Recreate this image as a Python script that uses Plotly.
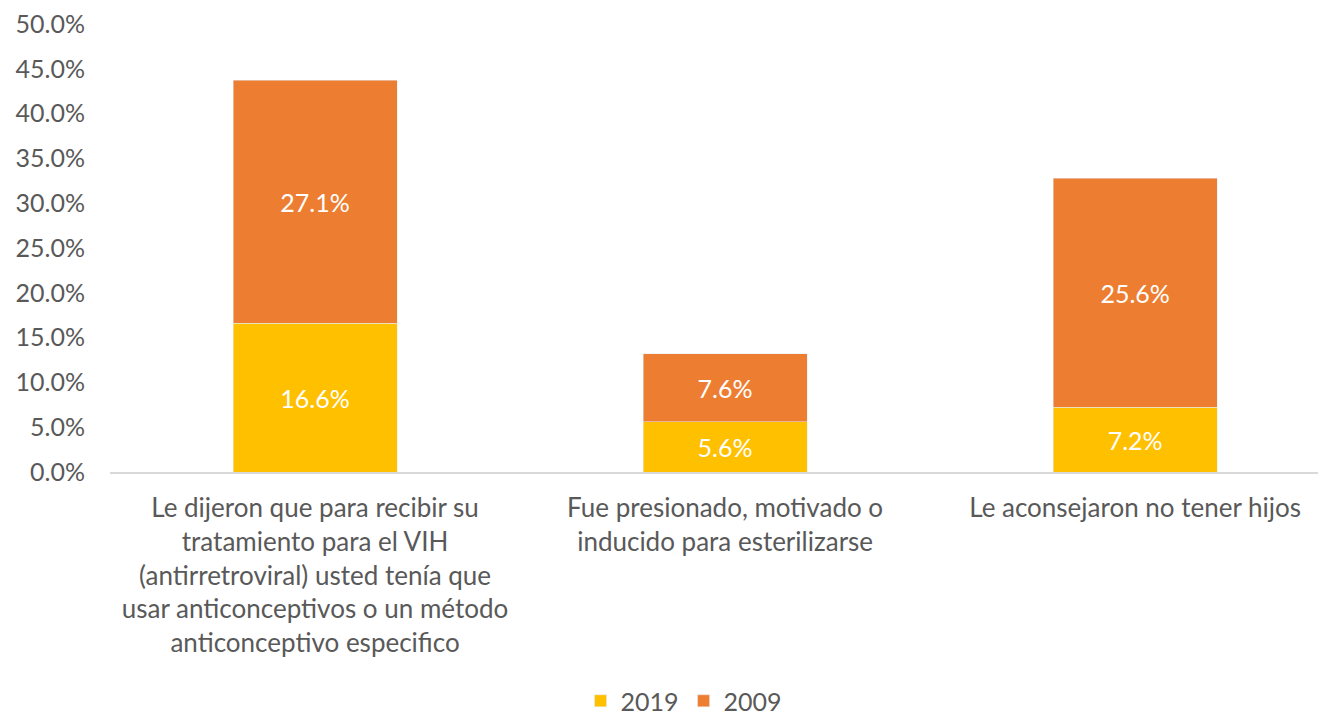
import plotly.graph_objects as go

categories = [
    "Le dijeron que para recibir su<br>tratamiento para el VIH<br>(antirretroviral) usted tenía que<br>usar anticonceptivos o un método<br>anticonceptivo especifico",
    "Fue presionado, motivado o<br>inducido para esterilizarse",
    "Le aconsejaron no tener hijos",
]
values_2019 = [0.166, 0.056, 0.072]
values_2009 = [0.271, 0.076, 0.256]
tick_vals = [0, 0.05, 0.10, 0.15, 0.20, 0.25, 0.30, 0.35, 0.40, 0.45, 0.50]
tick_text = ["0.0%", "5.0%", "10.0%", "15.0%", "20.0%", "25.0%", "30.0%", "35.0%", "40.0%", "45.0%", "50.0%"]

FONT = "Lato, Open Sans, sans-serif"
GREY = "#595959"

fig = go.Figure()
fig.add_trace(go.Bar(
    name="2019", x=categories, y=values_2019, marker_color="#FFC000",
    text=[f"{v*100:.1f}%" for v in values_2019], textposition="inside",
    insidetextanchor="middle", textfont=dict(color="white", size=25, family=FONT),
))
fig.add_trace(go.Bar(
    name="2009", x=categories, y=values_2009, marker_color="#ED7D31",
    text=[f"{v*100:.1f}%" for v in values_2009], textposition="inside",
    insidetextanchor="middle", textfont=dict(color="white", size=25, family=FONT),
))

fig.update_layout(
    barmode="stack",
    bargap=0.6,
    width=1326, height=713,
    margin=dict(l=102, r=0, t=16, b=249),
    plot_bgcolor="white", paper_bgcolor="white",
    font=dict(family=FONT, color=GREY, size=22),
    legend=dict(orientation="h", x=0.469, xanchor="center", yref="container", y=0.028, yanchor="middle",
                font=dict(size=25, color=GREY, family=FONT), traceorder="normal"),
    xaxis=dict(showline=True, linecolor="#D9D9D9", linewidth=1.5, ticks="",
               range=[-0.5, 2.485], automargin=False, ticklabelstandoff=12,
               tickfont=dict(size=26, color=GREY, family=FONT)),
    yaxis=dict(range=[0, 0.5], tickvals=tick_vals, ticktext=tick_text, showgrid=False,
               zeroline=False, showline=False, ticks="", automargin=False, ticklabelstandoff=24,
               ticklabeloverflow="allow",
               tickfont=dict(size=25, color=GREY, family=FONT)),
)

fig.write_html("out.html")
